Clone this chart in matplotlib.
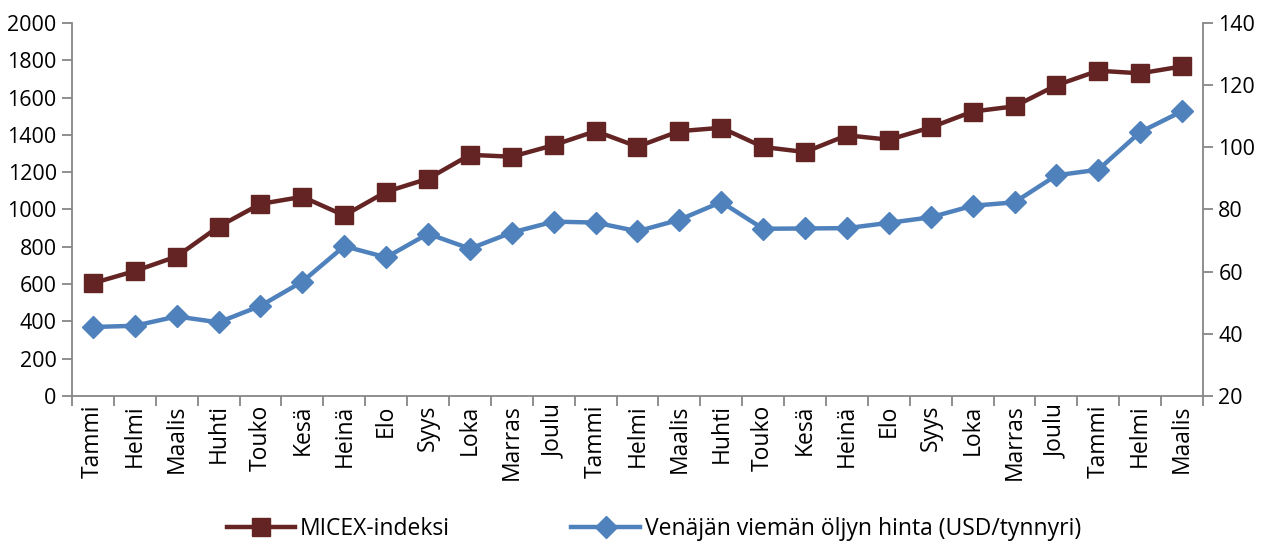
"""
MICEX index vs. Russian export oil price, monthly line chart (two y axes).
"""
import matplotlib
matplotlib.use("Agg")
import matplotlib.pyplot as plt

plt.rcParams["font.family"] = ["Open Sans", "DejaVu Sans"]

months = ["Tammi", "Helmi", "Maalis", "Huhti", "Touko", "Kesä", "Heinä", "Elo",
          "Syys", "Loka", "Marras", "Joulu",
          "Tammi", "Helmi", "Maalis", "Huhti", "Touko", "Kesä", "Heinä", "Elo",
          "Syys", "Loka", "Marras", "Joulu",
          "Tammi", "Helmi", "Maalis"]

micex = [605, 670, 748, 908, 1030, 1068, 968, 1095, 1165, 1293, 1283, 1345,
         1420, 1337, 1420, 1438, 1335, 1308, 1398, 1374, 1440, 1525, 1553,
         1666, 1744, 1730, 1767]

oil = [42.2, 42.6, 45.6, 43.7, 49.0, 56.8, 68.2, 64.6, 72.2, 67.4, 72.6, 76.1,
       75.8, 73.0, 76.7, 82.4, 73.8, 73.9, 74.0, 75.7, 77.5, 81.2, 82.3,
       91.0, 92.8, 104.9, 111.6]

AXIS_GREY = "#868686"
RED = "#632423"
BLUE = "#4F81BD"

fig = plt.figure(figsize=(12.67, 5.44), dpi=100)
ax = fig.add_axes([0.0568, 0.272, 0.8927, 0.6858])
ax2 = ax.twinx()

x = list(range(len(months)))
l1, = ax.plot(x, micex, color=RED, lw=3.2, marker="s", ms=13.5, zorder=3,
              label="MICEX-indeksi")
l2, = ax2.plot(x, oil, color=BLUE, lw=3.2, marker="D", ms=11.5, zorder=3,
               label="Venäjän viemän öljyn hinta (USD/tynnyri)")

ax.set_xlim(-0.5, len(months) - 0.5)
ax.set_ylim(0, 2000)
ax.set_yticks(range(0, 2001, 200))
ax2.set_ylim(20, 140)
ax2.set_yticks(range(20, 141, 20))

ax.set_xticks(x)
ax.set_xticklabels(months, rotation=90, fontsize=16.5)
ax.set_xticks([i - 0.5 for i in range(len(months) + 1)], minor=True)
ax.tick_params(axis="x", which="major", length=0, pad=6)
ax.tick_params(axis="x", which="minor", length=7, width=1.3, color=AXIS_GREY)
ax.tick_params(axis="y", length=7, width=1.3, color=AXIS_GREY, labelsize=15.5, pad=4)
ax2.tick_params(axis="y", length=7, width=1.3, color=AXIS_GREY, labelsize=15.5, pad=4)

for a in (ax, ax2):
    a.spines["top"].set_visible(False)
    for side in ("left", "right", "bottom"):
        a.spines[side].set_color(AXIS_GREY)
        a.spines[side].set_linewidth(1.3)
ax2.spines["left"].set_visible(False)
ax2.spines["bottom"].set_visible(False)
ax.spines["right"].set_visible(False)

fig.legend(handles=[l1, l2], loc="lower center", bbox_to_anchor=(0.516, -0.032),
           ncol=2, frameon=False, fontsize=16.5, handlelength=3.0,
           columnspacing=5.3, handletextpad=0.2)

fig.savefig("out.png", dpi=100)
